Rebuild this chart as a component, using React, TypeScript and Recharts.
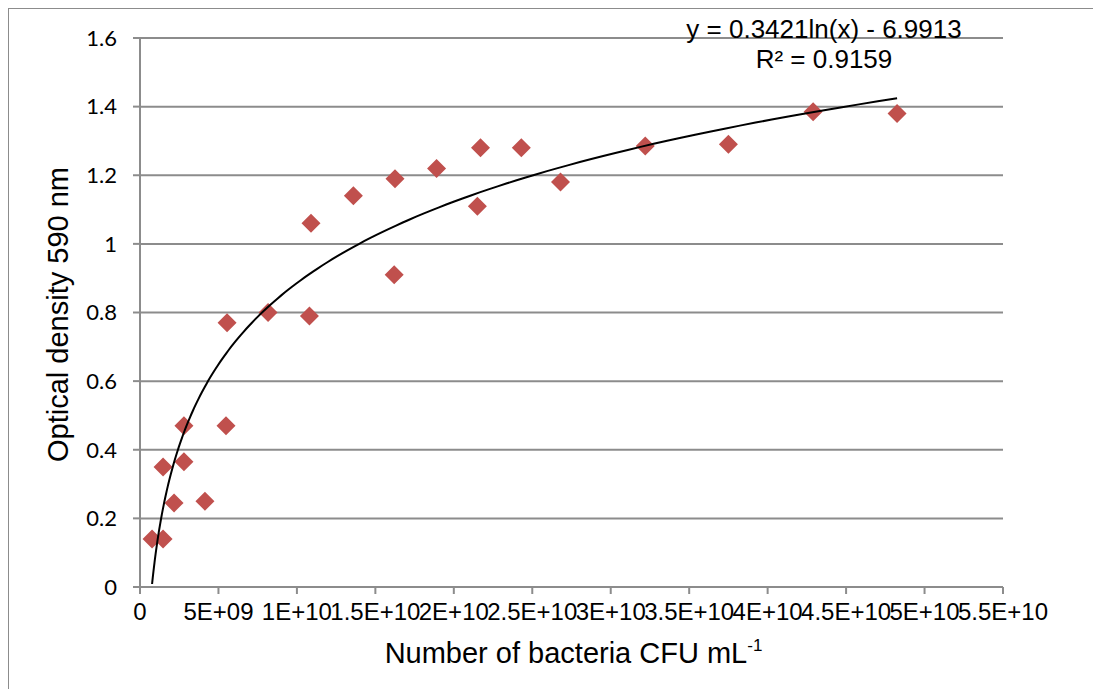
import React from "react";
import {
  ScatterChart,
  Scatter,
  XAxis,
  YAxis,
  CartesianGrid,
} from "recharts";

// readings
const cfuValues = [
  0.77e9, 1.47e9, 1.47e9, 2.17e9, 2.8e9, 2.8e9, 4.14e9, 5.48e9, 5.55e9, 8.16e9,
  10.8e9, 10.9e9, 13.6e9, 16.2e9, 16.25e9, 18.9e9, 21.5e9, 21.7e9, 24.3e9,
  26.8e9, 32.2e9, 37.5e9, 42.9e9, 48.25e9,
];
const odValues = [
  0.14, 0.14, 0.35, 0.245, 0.365, 0.47, 0.25, 0.47, 0.77, 0.8, 0.79, 1.06, 1.14,
  0.91, 1.19, 1.22, 1.11, 1.28, 1.28, 1.18, 1.285, 1.29, 1.385, 1.38,
];

const xTicks = [0, 5e9, 1e10, 1.5e10, 2e10, 2.5e10, 3e10, 3.5e10, 4e10, 4.5e10, 5e10, 5.5e10];
const xTickLabels = ["0", "5E+09", "1E+10", "1.5E+10", "2E+10", "2.5E+10", "3E+10", "3.5E+10", "4E+10", "4.5E+10", "5E+10", "5.5E+10"];
const yTicks = [0, 0.2, 0.4, 0.6, 0.8, 1, 1.2, 1.4, 1.6];
const yTickLabels = ["0", "0.2", "0.4", "0.6", "0.8", "1", "1.2", "1.4", "1.6"];

// log trendline as printed on the chart
const trendSlope = 0.3421;
const trendIntercept = -6.9913;

const points = cfuValues.map((x, i) => ({ x, y: odValues[i] }));

// curve drawn from the printed equation between first and last reading
const trendData = (() => {
  const x0 = Math.min(...cfuValues);
  const x1 = Math.max(...cfuValues);
  const n = 160;
  const out: { x: number; y: number }[] = [];
  for (let i = 0; i <= n; i++) {
    const x = x0 * Math.pow(x1 / x0, i / n);
    out.push({ x, y: trendSlope * Math.log(x) + trendIntercept });
  }
  return out;
})();

const RED = "#C0504D";
const GRID = "#8c8c8c";
const SANS = "'Liberation Sans', Arial, sans-serif";
const NARROW = "'Liberation Sans Narrow', 'Arial Narrow', 'Liberation Sans', Arial, sans-serif";

const Diamond = (props: any) => {
  const { cx, cy } = props;
  const r = 9.5;
  return (
    <polygon
      points={`${cx},${cy - r} ${cx + r},${cy} ${cx},${cy + r} ${cx - r},${cy}`}
      fill={RED}
    />
  );
};

const XTitle = (props: any) => {
  const { viewBox } = props;
  const cx = viewBox.x + viewBox.width / 2 + 2;
  return (
    <text x={cx} y={viewBox.y + 76} textAnchor="middle" fontFamily={SANS} fontSize={29} fill="#000">
      Number of bacteria CFU mL
      <tspan dy={-12} fontSize={17}>-1</tspan>
    </text>
  );
};

const YTitle = (props: any) => {
  const { viewBox } = props;
  const cy = viewBox.y + viewBox.height / 2 + 2;
  const x = 59;
  return (
    <text
      x={x}
      y={cy}
      transform={`rotate(-90 ${x} ${cy})`}
      textAnchor="middle"
      fontFamily={SANS}
      fontSize={29}
      fill="#000"
    >
      Optical density 590 nm
    </text>
  );
};

export default function App() {
  return (
    <div
      style={{
        position: "relative",
        width: 1085,
        height: 680,
        borderLeft: `1px solid ${GRID}`,
        borderTop: `1px solid ${GRID}`,
        background: "#fff",
        fontFamily: SANS,
      }}
    >
      <ScatterChart
        width={1085}
        height={680}
        margin={{ top: 29, right: 91, bottom: 0, left: 0 }}
      >
        <CartesianGrid horizontal vertical={false} stroke={GRID} strokeWidth={2} />
        <XAxis
          type="number"
          dataKey="x"
          domain={[0, 5.5e10]}
          ticks={xTicks}
          interval={0}
          tickFormatter={(v: number) => xTickLabels[xTicks.indexOf(v)] ?? String(v)}
          height={102}
          stroke={GRID}
          strokeWidth={2}
          tickSize={7}
          tickMargin={9}
          tick={{ fill: "#000", fontSize: 24, fontFamily: NARROW }}
          label={<XTitle />}
        />
        <YAxis
          type="number"
          dataKey="y"
          domain={[0, 1.6]}
          ticks={yTicks}
          interval={0}
          tickFormatter={(v: number) => yTickLabels[yTicks.indexOf(v)] ?? String(v)}
          width={131}
          stroke={GRID}
          strokeWidth={2}
          tickSize={7}
          tickMargin={16}
          tick={{ fill: "#000", fontSize: 22, fontFamily: "Lato, 'Open Sans', sans-serif" }}
          label={<YTitle />}
        />
        <Scatter data={points} shape={<Diamond />} isAnimationActive={false} />
        <Scatter
          data={trendData}
          line={{ stroke: "#000", strokeWidth: 2 }}
          shape={() => <g />}
          isAnimationActive={false}
        />
      </ScatterChart>
      <div
        style={{
          position: "absolute",
          left: 615,
          top: 7,
          width: 400,
          textAlign: "center",
          fontSize: 26,
          lineHeight: "26px",
          color: "#000",
        }}
      >
        y = 0.3421ln(x) - 6.9913
      </div>
      <div
        style={{
          position: "absolute",
          left: 615,
          top: 37,
          width: 400,
          textAlign: "center",
          fontSize: 26,
          lineHeight: "26px",
          color: "#000",
        }}
      >
        R² = 0.9159
      </div>
    </div>
  );
}
